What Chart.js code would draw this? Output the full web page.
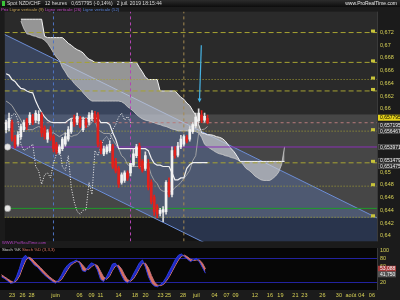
<!DOCTYPE html>
<html>
<head>
<meta charset="utf-8">
<script src="https://cdn.jsdelivr.net/npm/chart.js@4.4.1/dist/chart.umd.min.js"></script>
<style>
  body { margin:0; width:400px; height:300px; background:#1c1c1c; overflow:hidden; position:relative; font-family:"Liberation Sans", Arial, sans-serif; }
  canvas { position:absolute; left:0; }
  #main { top:7px; }
  #stoch { top:246px; }
  #bar { position:absolute; left:0; top:0; width:400px; height:7px; background:linear-gradient(#2c2c2c,#0c0c0c); }
  .txt { position:absolute; white-space:nowrap; line-height:1; }
</style>
</head>
<body>
<div id="bar"></div>
<canvas id="main" width="400" height="239"></canvas>
<canvas id="stoch" width="400" height="54"></canvas>

<div class="txt" style="left:2px;top:1px;width:3px;height:5px;background:#3ac43a"></div>
<div class="txt" style="left:7px;top:1px;font-size:5px;color:#d8d8d8">Spot NZD/CHF &nbsp; 12 heures &nbsp; 0,657795 (-0,14%) &nbsp; 2 juil. 2019 18:15:44</div>
<div class="txt" style="right:3px;top:1px;font-size:5px;color:#e8e8e8">www.ProRealTime.com</div>
<div class="txt" style="left:1px;top:8px;font-size:4.3px">
  <span style="color:#d048d0">Prix</span>
  <span style="color:#c8a458">Ligne verticale (9)</span>
  <span style="color:#c048c0">Ligne verticale (26)</span>
  <span style="color:#5a82d8">Ligne verticale (52)</span>
</div>
<div class="txt" style="left:2px;top:241px;font-size:4px;color:#b040c0">WWW.ProRealTime.com</div>
<div class="txt" style="left:2px;top:248px;font-size:4.3px;color:#dcdcdc">Stoch %K <span style="color:#e07a68">Stoch %D (3,3,3)</span></div>

<script>
// ---------- data (12h bars, index 0 = 22 mai) ----------
const opens  = [0.6567,0.6570,0.6578,0.6555,0.6544,0.6556,0.6567,0.6582,0.6578,0.6587,0.6582,0.6581,0.6590,0.6570,0.6552,0.6567,0.6556,0.6544,0.6531,0.6537,
                0.6544,0.6552,0.6564,0.6585,0.6579,0.6585,0.6567,0.6582,0.6579,0.6585,0.6591,0.6590,0.6547,0.6529,0.6532,0.6534,0.6541,0.6517,0.6506,0.6484,
                0.6487,0.6499,0.6499,0.6511,0.6526,0.6541,0.6517,0.6506,0.6514,0.6484,0.6461,0.6446,0.6435,0.6437,0.6438,0.6484,0.6465,0.6534,0.6527,0.6540,
                0.6544,0.6555,0.6552,0.6564,0.6573,0.6581,0.6590,0.6582,0.6585];
const highs  = [0.6582,0.6593,0.6582,0.6558,0.6564,0.6576,0.6582,0.6585,0.6594,0.6591,0.6597,0.6597,0.6594,0.6573,0.6567,0.6572,0.6559,0.6547,0.6543,0.6555,
                0.6562,0.6572,0.6585,0.6590,0.6593,0.6588,0.6587,0.6585,0.6594,0.6597,0.6596,0.6594,0.6550,0.6541,0.6543,0.6549,0.6544,0.6522,0.6509,0.6499,
                0.6502,0.6502,0.6514,0.6537,0.6544,0.6546,0.6520,0.6532,0.6520,0.6488,0.6464,0.6449,0.6443,0.6446,0.6487,0.6491,0.6540,0.6540,0.6547,0.6558,
                0.6559,0.6558,0.6572,0.6578,0.6593,0.6600,0.6597,0.6593,0.6590];
const lows   = [0.6562,0.6565,0.6549,0.6538,0.6541,0.6552,0.6564,0.6567,0.6575,0.6575,0.6578,0.6576,0.6556,0.6552,0.6547,0.6550,0.6532,0.6529,0.6528,0.6534,
                0.6541,0.6549,0.6561,0.6572,0.6575,0.6570,0.6564,0.6570,0.6575,0.6581,0.6578,0.6540,0.6529,0.6526,0.6529,0.6531,0.6506,0.6499,0.6476,0.6481,
                0.6484,0.6487,0.6494,0.6509,0.6523,0.6506,0.6500,0.6503,0.6472,0.6450,0.6432,0.6428,0.6431,0.6422,0.6434,0.6461,0.6461,0.6522,0.6524,0.6537,
                0.6541,0.6546,0.6549,0.6561,0.6570,0.6578,0.6578,0.6579,0.6576];
const closes = [0.6578,0.6585,0.6552,0.6541,0.6559,0.6572,0.6578,0.6572,0.6590,0.6579,0.6593,0.6591,0.6562,0.6556,0.6562,0.6555,0.6537,0.6532,0.6540,0.6552,
                0.6556,0.6567,0.6579,0.6576,0.6588,0.6573,0.6582,0.6575,0.6590,0.6593,0.6582,0.6544,0.6534,0.6537,0.6540,0.6544,0.6509,0.6502,0.6481,0.6496,
                0.6499,0.6491,0.6514,0.6529,0.6540,0.6509,0.6503,0.6526,0.6476,0.6453,0.6438,0.6434,0.6440,0.6441,0.6484,0.6465,0.6534,0.6526,0.6541,0.6552,
                0.6556,0.6549,0.6567,0.6575,0.6587,0.6593,0.6582,0.6588,0.6578];

const tenkan = [0.6612,0.6609,0.6605,0.6597,0.6590,0.6582,0.6573,0.6567,0.6567,0.6567,0.6570,0.6572,0.6570,0.6567,0.6564,0.6562,0.6562,0.6559,0.6556,0.6559,
                0.6562,0.6559,0.6556,0.6558,0.6559,0.6564,0.6570,0.6572,0.6573,0.6579,0.6582,0.6567,0.6564,0.6561,0.6561,0.6561,0.6552,0.6544,0.6537,0.6526,
                0.6522,0.6512,0.6509,0.6509,0.6509,0.6509,0.6509,0.6518,0.6511,0.6496,0.6487,0.6482,0.6473,0.6470,0.6470,0.6470,0.6470,0.6476,0.6479,0.6484,
                0.6490,0.6496,0.6503,0.6518,0.6526,0.6562,0.6567,0.6568,0.6572];
const kijun  = [0.6655,0.6653,0.6646,0.6643,0.6637,0.6632,0.6631,0.6628,0.6626,0.6625,0.6612,0.6602,0.6594,0.6587,0.6582,0.6579,0.6578,0.6578,0.6578,0.6578,
                0.6578,0.6582,0.6585,0.6585,0.6585,0.6585,0.6585,0.6585,0.6585,0.6585,0.6585,0.6585,0.6578,0.6578,0.6578,0.6575,0.6562,0.6552,0.6537,0.6537,
                0.6537,0.6537,0.6537,0.6537,0.6537,0.6537,0.6537,0.6537,0.6534,0.6522,0.6514,0.6511,0.6511,0.6509,0.6509,0.6509,0.6499,0.6488,0.6488,0.6491,
                0.6491,0.6506,0.6512,0.6515,0.6515,0.6515,0.6515,0.6515,0.6515];
// senkou spans, already drawn 26 bars ahead
const spanA  = [null,null,null,null,null,0.6738,0.6726,0.6718,0.6717,0.6715,0.6714,0.6712,0.6711,0.6708,0.6703,0.6696,0.6688,0.6681,0.6676,0.6665,
                0.6658,0.6650,0.6646,0.6640,0.6635,0.6631,0.6625,0.6620,0.6615,0.6612,0.6612,0.6612,0.6612,0.6612,0.6612,0.6612,0.6612,0.6612,0.6612,0.6611,
                0.6608,0.6603,0.6600,0.6596,0.6591,0.6587,0.6584,0.6582,0.6581,0.6579,0.6578,0.6576,0.6575,0.6573,0.6572,0.6570,0.6568,0.6567,0.6565,0.6565,
                0.6565,0.6565,0.6565,0.6565,0.6564,0.6562,0.6555,0.6544,0.6540,0.6537,0.6534,0.6531,0.6529,0.6528,0.6526,0.6525,0.6523,0.6522,0.6520,0.6517,
                0.6512,0.6506,0.6503,0.6499,0.6494,0.6491,0.6488,0.6487,0.6487,0.6487,0.6490,0.6494,0.6500,0.6512,0.6540];
const spanB  = [null,null,null,null,null,0.6741,0.6741,0.6741,0.6741,0.6741,0.6741,0.6741,0.6741,0.6714,0.6712,0.6712,0.6712,0.6712,0.6712,0.6712,
                0.6708,0.6703,0.6700,0.6696,0.6693,0.6691,0.6688,0.6682,0.6678,0.6676,0.6673,0.6673,0.6673,0.6673,0.6673,0.6673,0.6673,0.6673,0.6673,0.6673,
                0.6673,0.6673,0.6673,0.6673,0.6673,0.6665,0.6658,0.6650,0.6646,0.6646,0.6646,0.6646,0.6628,0.6628,0.6628,0.6628,0.6628,0.6628,0.6623,0.6618,
                0.6615,0.6609,0.6605,0.6597,0.6590,0.6575,0.6562,0.6561,0.6559,0.6559,0.6558,0.6556,0.6555,0.6553,0.6549,0.6543,0.6537,0.6532,0.6525,0.6517,
                0.6517,0.6517,0.6517,0.6517,0.6517,0.6517,0.6517,0.6517,0.6517,0.6517,0.6517,0.6517,0.6517,0.6517,0.6517];

const stochK = [33,29,23,17,18,33,54,79,87,79,71,62,57,48,40,33,27,21,17,25,37,52,62,68,71,75,67,48,46,60,
                68,64,50,27,21,33,48,65,67,54,37,23,18,25,40,54,68,75,57,33,17,10,8,14,21,33,48,62,77,87,
                90,83,77,71,75,79,70,56,42];
const stochD = [38,33,28,23,19,23,35,55,73,82,79,71,63,56,48,40,33,27,22,21,26,38,50,61,67,71,71,63,54,51,
                58,64,61,47,33,27,34,49,60,62,53,38,26,22,28,40,54,66,67,55,36,20,12,11,14,23,34,48,62,75,
                85,87,83,77,74,75,75,67,53];

const priceTicks = [0.672,0.670,0.668,0.666,0.664,0.662,0.660,0.650,0.648,0.646,0.644,0.642,0.640];
const stochTicks = [20,60,80,100];
const dateTickPos    = [3.5,7,10,18,26,30,33,39,44.5,48,53,55.5,60.5,65,71,75,78,84.5,89.5,93,98,101,107,112.5,116.5,120,123.5];
const dateTickLabels = ['23','26','28','juin','06','09','11','14','18','20','23','25','28','juil','04','07','09','12','16','19','21','23','26','30','août','04','06'];

const dashedLevels = [0.6720,0.6673,0.6628,0.651479];
const dottedLevels = [0.6646,0.656467,0.6478,0.6429];
const purpleLevel = 0.653971;
const greenLevel = 0.6443;
const lastPrice = 0.657795;
const verticalBars = [16,42,60];           // 52, 26 and 9 bars back
const chanIdx = [-0.5,125.2];
const chanUpper = [0.6717,0.6428];
const chanLower = [0.6544,0.6255];
const zoneTop = 0.6591, zoneBottom = 0.6428;
const arrowIdx = [65.9,65.3], arrowPrice = [0.6700,0.6610];
const axisTags = [0.657795,0.657195,0.656467,0.653971,0.651479,0.651475];
const stochTags = [53.088,41.750];

// ---------- chart ----------
const X_MIN = -0.5, X_MAX = 125.2;
const Y_MIN = 0.6391, Y_MAX = 0.6753;
const UP = '#f2f2f2', DOWN = '#e2211c';
const YEL = '#a6a232';
const axisFont = {family:'Liberation Sans', size:5.5};

function fr(v, d) { return v.toFixed(d).replace('.', ','); }
function hline(y, color, dash, order, width) {
  return {type:'line', data:[{x:X_MIN,y:y},{x:X_MAX,y:y}], borderColor:color, borderWidth:width || 1,
          borderDash:dash, pointRadius:0, order:order};
}
function vline(x, color) {
  return {type:'line', data:[{x:x,y:Y_MIN},{x:x,y:Y_MAX}], borderColor:color, borderWidth:1,
          borderDash:[3,3], pointRadius:0, order:6};
}
const series = arr => arr.map((v, i) => ({x:i, y:v}));

const datasets = [
  // 0,1 regression channel
  {type:'line', data:chanIdx.map((x,i)=>({x:x,y:chanUpper[i]})), borderColor:'#6d8ed6', borderWidth:1, pointRadius:0,
   fill:{target:1}, backgroundColor:'rgba(100,140,230,0.27)', order:9},
  {type:'line', data:chanIdx.map((x,i)=>({x:x,y:chanLower[i]})), borderColor:'#6d8ed6', borderWidth:1, pointRadius:0, order:9},
  // 2,3 cloud
  {type:'line', data:series(spanB), borderColor:'#f4f4f4', borderWidth:1, pointRadius:0,
   fill:{target:3}, backgroundColor:'rgba(210,210,210,0.64)', order:7},
  {type:'line', data:series(spanA), borderColor:'#c8c8c8', borderWidth:0.8, pointRadius:0, order:7},
  // ichimoku lines
  {type:'line', data:series(kijun), borderColor:'#f0f0f0', borderWidth:1.2, pointRadius:0, order:3},
  {type:'line', data:series(tenkan), borderColor:'#a8a8a8', borderWidth:0.9, pointRadius:0, order:3},
  {type:'line', data:closes.map((c,i)=>({x:i-26,y:c})), borderColor:'#f4f4f4', borderWidth:1, borderDash:[1,1.6], pointRadius:0, order:3},
  // levels
  ...dashedLevels.map(v => hline(v, YEL, [5,3], 5)),
  ...dottedLevels.map(v => hline(v, YEL, [1,2], 5)),
  hline(purpleLevel, '#8a2fb8', [], 5),
  hline(greenLevel, '#1f9a2a', [], 5),
  hline(lastPrice, '#b77a7a', [3,3], 4),
  vline(verticalBars[0], '#4f74c4'),
  vline(verticalBars[1], '#b444b4'),
  vline(verticalBars[2], '#a48a52'),
  // anchors of the two horizontal lines
  {type:'line', data:[{x:0.5,y:purpleLevel},{x:0.5,y:greenLevel}], showLine:false, pointRadius:3.2,
   pointBackgroundColor:'#e6e6e6', pointBorderColor:'#9a9a9a', pointBorderWidth:0.6, order:2},
  // candles
  {type:'bar', data:lows.map((l,i)=>({x:i,y:[l,highs[i]]})), barThickness:1, grouped:false,
   backgroundColor:closes.map((c,i)=> c>=opens[i] ? '#dcdcdc' : DOWN), order:1},
  {type:'bar', data:opens.map((o,i)=>({x:i,y:[o,closes[i]]})), barThickness:2, grouped:false, minBarLength:1,
   backgroundColor:closes.map((c,i)=> c>=opens[i] ? UP : DOWN), order:0}
];

const mainBg = {
  id:'mainBg',
  beforeDraw(chart) {
    const {ctx, chartArea:a, scales:{y}} = chart;
    ctx.save();
    ctx.fillStyle = '#1b1b1b'; ctx.fillRect(0, 0, chart.width, chart.height);
    ctx.fillStyle = '#2a2a2a'; ctx.fillRect(a.left, a.top, a.width, a.height);
    const t = y.getPixelForValue(zoneTop), b = y.getPixelForValue(zoneBottom);
    ctx.fillStyle = '#464646'; ctx.fillRect(a.left, t, a.width, b - t);
    ctx.fillStyle = '#141414'; ctx.fillRect(a.left, b, a.width, a.bottom - b);
    ctx.fillStyle = '#3a3a3a'; ctx.fillRect(a.right, a.top, 1, a.height);
    ctx.restore();
  },
  afterDatasetsDraw(chart) {
    const {ctx, scales:{x, y}} = chart;
    const x0 = x.getPixelForValue(arrowIdx[0]), y0 = y.getPixelForValue(arrowPrice[0]);
    const x1 = x.getPixelForValue(arrowIdx[1]), y1 = y.getPixelForValue(arrowPrice[1]);
    ctx.save();
    ctx.strokeStyle = '#46b2e2'; ctx.fillStyle = '#46b2e2'; ctx.lineWidth = 1.2;
    ctx.beginPath(); ctx.moveTo(x0, y0); ctx.lineTo(x1, y1 - 3); ctx.stroke();
    ctx.beginPath(); ctx.moveTo(x1 - 2, y1 - 4); ctx.lineTo(x1 + 2, y1 - 4); ctx.lineTo(x1, y1); ctx.closePath(); ctx.fill();
    // small tags at the right end of the yellow levels
    ctx.fillStyle = '#c8c43a';
    dashedLevels.concat(dottedLevels).forEach(v => {
      const py = y.getPixelForValue(v);
      ctx.fillRect(chart.chartArea.right - 6, py - 3, 4, 3);
    });
    ctx.restore();
  },
  afterDraw(chart) {
    const {ctx, chartArea:a, scales:{y}} = chart;
    const nudge = [-5, -1, 0, 0, -2, 3];
    ctx.save();
    ctx.font = '5px "Liberation Sans"';
    ctx.textBaseline = 'middle';
    axisTags.forEach((v, i) => {
      const py = y.getPixelForValue(v) + nudge[i];
      ctx.fillStyle = i === 0 ? '#e4d21c' : '#2c2c2c';
      ctx.fillRect(a.right + 1, py - 3, 22, 6);
      if (i > 0) { ctx.strokeStyle = '#666'; ctx.lineWidth = 0.5; ctx.strokeRect(a.right + 1.5, py - 2.5, 21, 5); }
      ctx.fillStyle = i === 0 ? '#000' : '#f0f0f0';
      ctx.fillText(fr(v, 6), a.right + 3, py + 0.3);
    });
    ctx.restore();
  }
};

new Chart(document.getElementById('main'), {
  type:'line',
  data:{datasets:datasets},
  options:{
    responsive:false, animation:false, events:[],
    layout:{padding:0},
    plugins:{legend:{display:false}, tooltip:{enabled:false}},
    scales:{
      x:{type:'linear', min:X_MIN, max:X_MAX, offset:false, display:false},
      y:{position:'right', min:Y_MIN, max:Y_MAX, grid:{display:false, drawTicks:false}, border:{display:false},
         afterBuildTicks: s => { s.ticks = priceTicks.map(v => ({value:v})); },
         afterFit: s => { s.width = 23; s.paddingTop = 0; s.paddingBottom = 0; },
         ticks:{color:'#d8d256', font:axisFont, padding:3, autoSkip:false, callback: v => fr(v, 3).replace(/0+$/, '')}}
    }
  },
  plugins:[mainBg]
});

const stochBg = {
  id:'stochBg',
  beforeDraw(chart) {
    const {ctx, chartArea:a} = chart;
    ctx.save();
    ctx.fillStyle = '#1b1b1b'; ctx.fillRect(0, 0, chart.width, chart.height);
    ctx.fillStyle = '#060606'; ctx.fillRect(a.left, a.top, a.width, a.height);
    ctx.fillStyle = '#3a3a3a'; ctx.fillRect(a.right, a.top, 1, a.height);
    ctx.restore();
  },
  afterDraw(chart) {
    const {ctx, chartArea:a, scales:{y}} = chart;
    const nudge = [0, 1];
    ctx.save();
    ctx.font = '5px "Liberation Sans"';
    ctx.textBaseline = 'middle';
    stochTags.forEach((v, i) => {
      const py = y.getPixelForValue(v) + nudge[i];
      ctx.fillStyle = i === 0 ? '#a83c3c' : '#555555';
      ctx.fillRect(a.right + 1, py - 3, 18, 6);
      ctx.fillStyle = '#f4f4f4';
      ctx.fillText(fr(v, 3), a.right + 3, py + 0.3);
    });
    ctx.restore();
  }
};

new Chart(document.getElementById('stoch'), {
  type:'line',
  data:{datasets:[
    {data:series(stochK), borderColor:'#2c3ce0', borderWidth:1, pointRadius:0,
     fill:{target:1, above:'rgba(32,44,205,0.95)', below:'rgba(226,118,104,0.95)'}},
    {data:series(stochD), borderColor:'#ea8472', borderWidth:1, pointRadius:0}
  ]},
  options:{
    responsive:false, animation:false, events:[],
    layout:{padding:{top:2}},
    plugins:{legend:{display:false}, tooltip:{enabled:false}},
    scales:{
      x:{type:'linear', min:X_MIN, max:X_MAX, offset:false, grid:{display:false, drawTicks:false}, border:{display:false},
         afterBuildTicks: s => { s.ticks = dateTickPos.map(v => ({value:v})); },
         afterFit: s => { s.height = 10; s.paddingLeft = 0; s.paddingRight = 0; },
         ticks:{color:'#d8d256', font:axisFont, padding:2, autoSkip:false, maxRotation:0,
                callback:(v, i) => dateTickLabels[i]}},
      y:{position:'right', min:0, max:105, border:{display:false},
         grid:{drawTicks:false, color: c => (c.tick && (c.tick.value === 80 || c.tick.value === 20)) ? '#22229e' : 'rgba(0,0,0,0)'},
         afterBuildTicks: s => { s.ticks = stochTicks.map(v => ({value:v})); },
         afterFit: s => { s.width = 23; s.paddingTop = 0; s.paddingBottom = 0; },
         ticks:{color:'#d8d256', font:axisFont, padding:3, autoSkip:false}}
    }
  },
  plugins:[stochBg]
});
</script>
</body>
</html>
